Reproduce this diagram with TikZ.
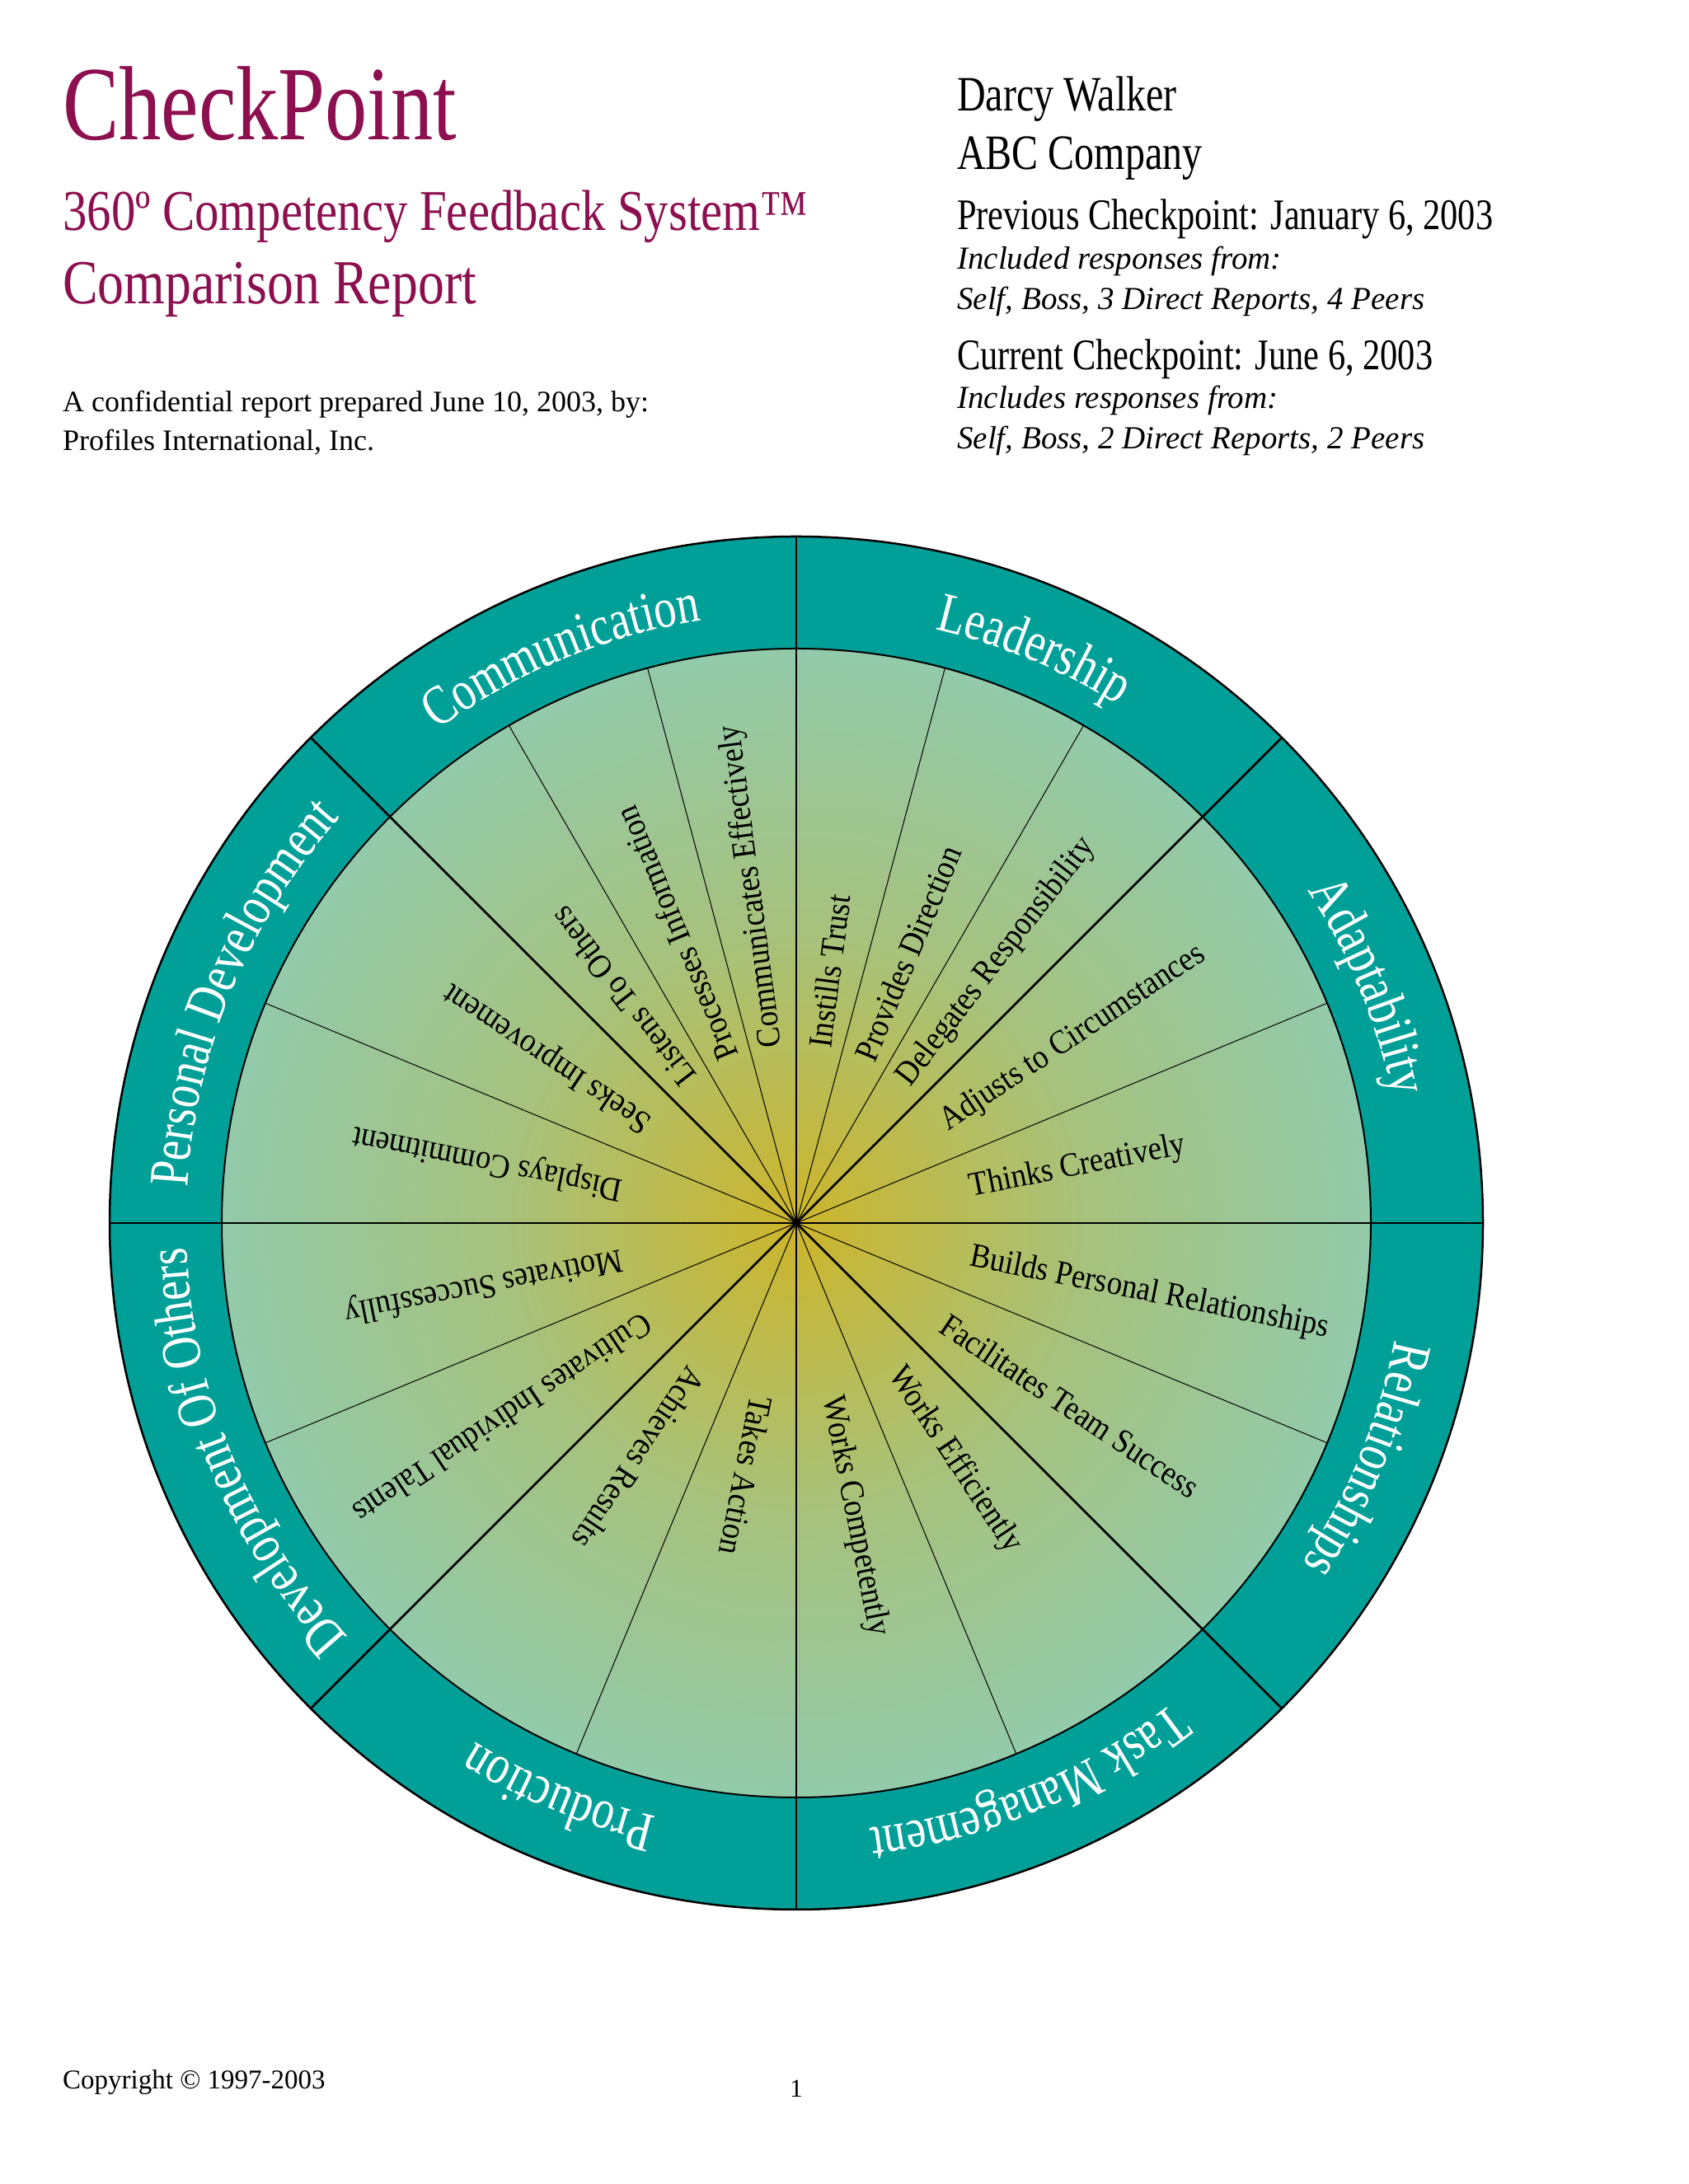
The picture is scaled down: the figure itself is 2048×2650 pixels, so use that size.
\documentclass[tikz,border=0pt]{standalone}
\usepackage{fontspec}
\setmainfont{Liberation Serif}
\newfontfamily\cond[FakeStretch=0.80]{Liberation Serif}
\newfontfamily\condb[FakeStretch=0.84]{Liberation Serif}
\newfontfamily\condi[FakeStretch=0.90]{Liberation Serif}
\usetikzlibrary{decorations.text,calc}
\definecolor{maroon}{HTML}{8C0F4F}
\definecolor{ringteal}{HTML}{00A099}
\definecolor{yel}{HTML}{CDB52A}
\definecolor{mid}{HTML}{A6C27E}
\definecolor{edge}{HTML}{86CFC8}
\pgfdeclareradialshading{wheel}{\pgfpoint{0bp}{0bp}}{color(0bp)=(yel); color(13bp)=(mid); color(33bp)=(edge); color(80bp)=(edge)}
\begin{document}
\begin{tikzpicture}[x=1pt,y=1pt,
  item/.style={anchor=west,font=\condi\fontsize{41}{43}\selectfont,inner sep=0pt},
  hdr/.style={anchor=base west,inner sep=0pt},
  major/.style={line width=2.6pt},
  minor/.style={line width=1pt}]
\useasboundingbox (0,0) rectangle (2048,2650);
\coordinate (C) at (966,1166);
% ring
\fill[ringteal] (C) circle[radius=833];
\shade[shading=wheel] (C) circle[radius=697];
\draw[line width=2.5pt] (C) circle[radius=833];
\draw[line width=2pt] (C) circle[radius=697];
% lines
\foreach \a in {90,45,0,-45,-90,-135,180,135}
  \draw[major] (C) -- ($(C)+(\a:833)$);
\foreach \a in {75,60,22.5,-22.5,-67.5,-112.5,-157.5,157.5,120,105}
  \draw[minor] (C) -- ($(C)+(\a:697)$);
% category labels
\foreach \s/\t in {90/Leadership,45/Adaptability,0/Relationships,-45/Task Management,-90/Production,-135/Development Of Others,180/Personal Development,135/Communication}{
  \pgfmathsetmacro{\e}{\s-45}
  \path[decorate,decoration={text along path,text align=center,text color=white,
     text={|\cond\fontsize{68}{70}\selectfont|\t}}]
     ($(C)+(\s:740)$) arc[start angle=\s,end angle=\e,radius=740];
}
% items
\foreach \a/\t in {82.5/Instills Trust,67.5/Provides Direction,52.5/Delegates Responsibility,
  33.75/Adjusts to Circumstances,11.25/Thinks Creatively,-11.25/Builds Personal Relationships,
  -33.75/Facilitates Team Success,-56.25/Works Efficiently,-78.75/Works Competently,
  -101.25/Takes Action,-123.75/Achieves Results,-146.25/Cultivates Individual Talents,
  -168.75/Motivates Successfully,168.75/Displays Commitment,146.25/Seeks Improvement,
  127.5/Listens To Others,112.5/Processes Information,97.5/Communicates Effectively}
  \node[item,rotate=\a] (n\a) at ($(C)+(\a:215)$) {\t};
% header
\node[hdr,text=maroon,font=\cond\fontsize{128}{128}\selectfont] (title) at (76,2480) {CheckPoint};
\node[hdr,text=maroon,font=\condb\fontsize{70}{70}\selectfont] (sub1) at (76,2370) {360º Competency Feedback System™};
\node[hdr,text=maroon,font=\condb\fontsize{76}{76}\selectfont] (sub2) at (76,2281) {Comparison Report};
\node[hdr,font=\fontsize{36}{36}\selectfont] (c1) at (76,2150) {A confidential report prepared June 10, 2003, by:};
\node[hdr,font=\fontsize{36}{36}\selectfont] (c2) at (76,2103) {Profiles International, Inc.};
\node[hdr,font=\cond\fontsize{60}{60}\selectfont] (r1) at (1161,2515) {Darcy Walker};
\node[hdr,font=\cond\fontsize{60}{60}\selectfont] (r2) at (1161,2444) {ABC Company};
\node[hdr,font=\cond\fontsize{53}{53}\selectfont] (r3) at (1161,2371) {Previous Checkpoint: January 6, 2003};
\node[hdr,font=\itshape\fontsize{39}{39}\selectfont] (r4) at (1161,2323) {Included responses from:};
\node[hdr,font=\itshape\fontsize{39}{39}\selectfont] (r5) at (1161,2274) {Self, Boss, 3 Direct Reports, 4 Peers};
\node[hdr,font=\cond\fontsize{53}{53}\selectfont] (r6) at (1161,2201) {Current Checkpoint: June 6, 2003};
\node[hdr,font=\itshape\fontsize{39}{39}\selectfont] (r7) at (1161,2154) {Includes responses from:};
\node[hdr,font=\itshape\fontsize{39}{39}\selectfont] (r8) at (1161,2105) {Self, Boss, 2 Direct Reports, 2 Peers};
\node[hdr,font=\fontsize{33}{33}\selectfont] (copy) at (76,115) {Copyright © 1997-2003};
\node[anchor=base,inner sep=0pt,font=\fontsize{31}{31}\selectfont] (pg) at (966,105) {1};
\end{tikzpicture}
\end{document}
